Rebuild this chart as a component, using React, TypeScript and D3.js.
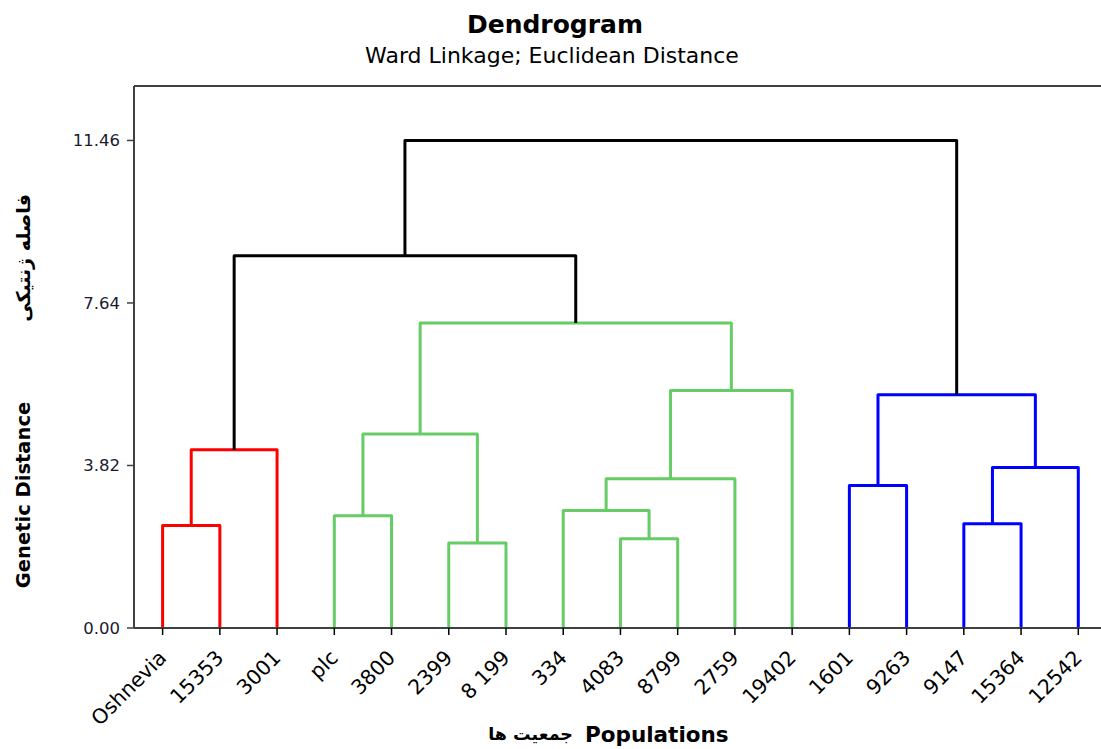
import React from 'react';
import * as d3 from 'd3';

// leaves in dendrogram order
const leaves = [
  'Oshnevia', '15353', '3001', 'plc', '3800', '2399', '8 199', '334', '4083',
  '8799', '2759', '19402', '1601', '9263', '9147', '15364', '12542',
];

// merges: ids 0..16 are leaves, merge i gets id 17 + i
const mergeLeft = [0, 17, 3, 5, 19, 8, 7, 23, 24, 21, 18, 12, 14, 29, 28, 27];
const mergeRight = [1, 2, 4, 6, 20, 9, 22, 10, 11, 25, 26, 13, 15, 16, 30, 31];
const mergeHeight = [2.41, 4.19, 2.64, 2.0, 4.56, 2.1, 2.76, 3.51, 5.58, 7.17, 8.75, 3.35, 2.45, 3.77, 5.48, 11.46];
const mergeGroup = ['red', 'red', 'green', 'green', 'green', 'green', 'green', 'green', 'green', 'green', 'black', 'blue', 'blue', 'blue', 'blue', 'black'];

const yTicks = [0, 3.82, 7.64, 11.46];

const colors: Record<string, string> = {
  red: '#ff0000',
  green: '#66cc66',
  blue: '#0000ff',
  black: '#000000',
};

const W = 1101;
const H = 749;
const margin = { top: 86, left: 134, bottom: 121 };

export default function App(): JSX.Element {
  const x = d3.scalePoint<string>()
    .domain(leaves)
    .range([margin.left, margin.left + 17 * 57.23])
    .padding(0.5);

  const y = d3.scaleLinear()
    .domain([0, 12.74])
    .range([H - margin.bottom, margin.top]);

  // node positions
  const nodeX: number[] = leaves.map(l => x(l) as number);
  const nodeH: number[] = leaves.map(() => 0);
  mergeLeft.forEach((l, i) => {
    nodeX.push((nodeX[l] + nodeX[mergeRight[i]]) / 2);
    nodeH.push(mergeHeight[i]);
  });

  const links = mergeLeft.map((l, i) => {
    const r = mergeRight[i];
    const p = d3.path();
    p.moveTo(nodeX[l], y(nodeH[l]));
    p.lineTo(nodeX[l], y(mergeHeight[i]));
    p.lineTo(nodeX[r], y(mergeHeight[i]));
    p.lineTo(nodeX[r], y(nodeH[r]));
    return { d: p.toString(), color: colors[mergeGroup[i]] };
  });

  const y0 = y(0);
  const frameColor = '#404040';
  const font = 'DejaVu Sans, Verdana, sans-serif';

  return (
    <svg width={W} height={H} style={{ position: 'absolute', left: 0, top: 0, background: '#fff' }}
      fontFamily={font}>
      <rect width={W} height={H} fill="#fff" />
      <text x={555} y={33} textAnchor="middle" fontWeight="bold" fontSize={25}>Dendrogram</text>
      <text x={552} y={63} textAnchor="middle" fontSize={22}>Ward Linkage; Euclidean Distance</text>

      {links.map((lk, i) => (
        <path key={i} d={lk.d} fill="none" stroke={lk.color} strokeWidth={3} strokeLinejoin="round" />
      ))}

      {/* frame */}
      <line x1={margin.left} x2={W + 10} y1={margin.top} y2={margin.top} stroke={frameColor} strokeWidth={2} />
      <line x1={margin.left} x2={margin.left} y1={margin.top} y2={y0} stroke={frameColor} strokeWidth={2} />
      <line x1={margin.left} x2={W + 10} y1={y0} y2={y0} stroke={frameColor} strokeWidth={2} />

      {/* y axis */}
      {yTicks.map(t => (
        <g key={t} transform={`translate(${margin.left},${y(t)})`}>
          <line x1={-7} x2={0} stroke={frameColor} strokeWidth={1.5} />
          <text x={-14} dy="0.36em" textAnchor="end" fontSize={16.5} fill="#1a1a2e">{t.toFixed(2)}</text>
        </g>
      ))}

      {/* x axis */}
      {leaves.map(l => (
        <g key={l} transform={`translate(${x(l)},${y0})`}>
          <line y1={0} y2={7} stroke="#000" strokeWidth={1.5} />
          <text transform="translate(5,31) rotate(-45)" textAnchor="end" fontSize={20.5}>{l}</text>
        </g>
      ))}

      {/* axis titles */}
      <text transform="translate(30,495) rotate(-90)" textAnchor="middle" fontWeight="bold" fontSize={19.5}>Genetic Distance</text>
      <text transform="translate(30,258) rotate(-90)" textAnchor="middle" fontWeight="bold" fontSize={19} direction="rtl">فاصله ژنتیکی</text>
      <text x={585} y={742} fontWeight="bold" fontSize={21.5}>Populations</text>
      <text x={573} y={740} textAnchor="start" direction="rtl" fontWeight="bold" fontSize={17.5}>جمعیت ها</text>
    </svg>
  );
}
